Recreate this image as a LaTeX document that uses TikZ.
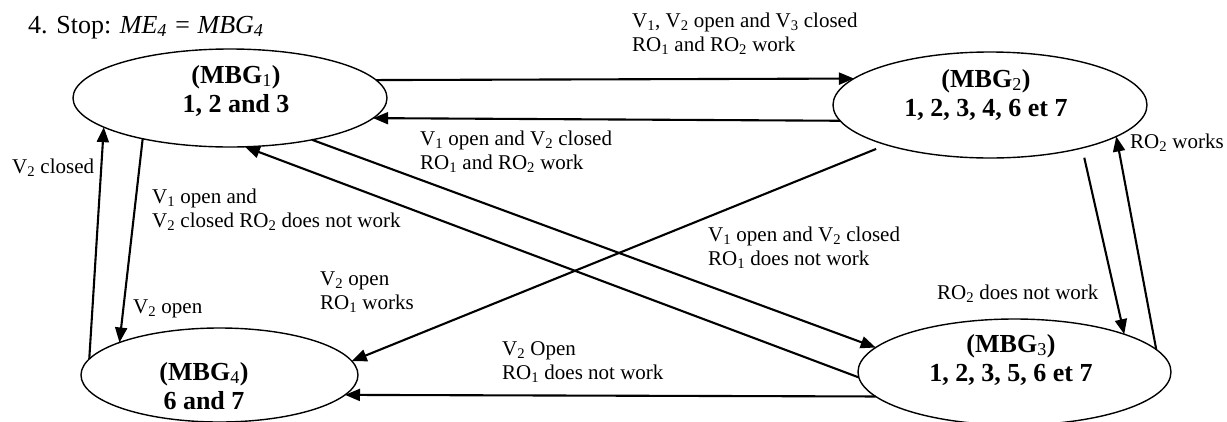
\documentclass[tikz,border=0pt]{standalone}
\usepackage{fontspec}
\setmainfont{Liberation Serif}
\usetikzlibrary{shapes.geometric,arrows.meta}

% stacked lines whose first baseline is the node's base
\newcommand\colc[1]{\begin{tabular}[t]{@{}c@{}}#1\end{tabular}}
\newcommand\coll[1]{\begin{tabular}[t]{@{}l@{}}#1\end{tabular}}
\newcommand\sbs[1]{\textsubscript{#1}}

\begin{document}
\begin{tikzpicture}[x=1pt,y=-1pt,
  state/.style={draw, ellipse, line width=1.4pt, inner sep=0pt, outer sep=0pt},
  statetext/.style={anchor=base, inner sep=0pt, font=\fontsize{26}{29}\selectfont\bfseries},
  lbl/.style={anchor=base west, inner sep=0pt, font=\fontsize{21}{24.5}\selectfont},
  conn/.style={line width=2.1pt, -{Triangle[length=15pt,width=12pt]}}]
\useasboundingbox (0,0) rectangle (1227,421);

% heading line
\node[anchor=base west, inner sep=0pt, font=\fontsize{26}{30}\selectfont] (title) at (28,33)
  {4. Stop: \textit{ME\sbs{4} = MBG\sbs{4}}};

% the four states
\node[state, minimum width=314pt, minimum height=98pt]  (A) at (230,98) {};
\node[state, minimum width=314pt, minimum height=106pt] (B) at (990,105) {};
\node[state, minimum width=313pt, minimum height=106pt] (C) at (1014.5,372) {};
\node[state, minimum width=277pt, minimum height=94pt]  (D) at (219.5,375) {};

\node[statetext] (At) at (236,83)  {\colc{(MBG\sbs{\mdseries 1})\\1, 2 and 3}};
\node[statetext] (Bt) at (986,87)  {\colc{(MBG\sbs{\mdseries 2})\\1, 2, 3, 4, 6 et 7}};
\node[statetext] (Ct) at (1011,352) {\colc{(MBG\sbs{\mdseries 3})\\1, 2, 3, 5, 6 et 7}};
\node[statetext] (Dt) at (204,380) {\colc{(MBG\sbs{\mdseries 4})\\6 and 7}};

% transitions
\draw[conn] (A.7.03) -- (B.169.76);
\draw[conn] (B.-174.31) -- (A.-8.91);
\draw[conn] (D.173.54) -- (A.-167.18);
\draw[conn] (A.-155.56) -- (D.162.56);
\draw[conn] (C.-178.17) -- (A.-73.3);
\draw[conn] (A.-27.15) -- (C.170.24);
\draw[conn, shorten <=11pt] (B.-159.97) -- (D.6.18);
\draw[conn] (C.-170.24) -- (D.-9.62);
\draw[conn, shorten <=10pt] (B.-25.52) -- (C.19.44);
\draw[conn] (C.9.69) -- (B.-14.58);

% transition conditions
\node[lbl] (l1) at (632,27)  {\coll{V\sbs{1}, V\sbs{2} open and V\sbs{3} closed\\RO\sbs{1} and RO\sbs{2} work}};
\node[lbl] (l2) at (420,145) {\coll{V\sbs{1} open and V\sbs{2} closed\\RO\sbs{1} and RO\sbs{2} work}};
\node[lbl] (l3) at (12,173)  {V\sbs{2} closed};
\node[lbl] (l4) at (152,203) {\coll{V\sbs{1} open and\\V\sbs{2} closed RO\sbs{2} does not work}};
\node[lbl] (l5) at (708,241) {\coll{V\sbs{1} open and V\sbs{2} closed\\RO\sbs{1} does not work}};
\node[lbl] (l6) at (320,285) {\coll{V\sbs{2} open\\RO\sbs{1} works}};
\node[lbl] (l7) at (133,313) {V\sbs{2} open};
\node[lbl] (l8) at (502,355) {\coll{V\sbs{2} Open\\RO\sbs{1} does not work}};
\node[lbl] (l9) at (937,299) {RO\sbs{2} does not work};
\node[lbl] (l10) at (1130,148) {RO\sbs{2} works};
\end{tikzpicture}
\end{document}
